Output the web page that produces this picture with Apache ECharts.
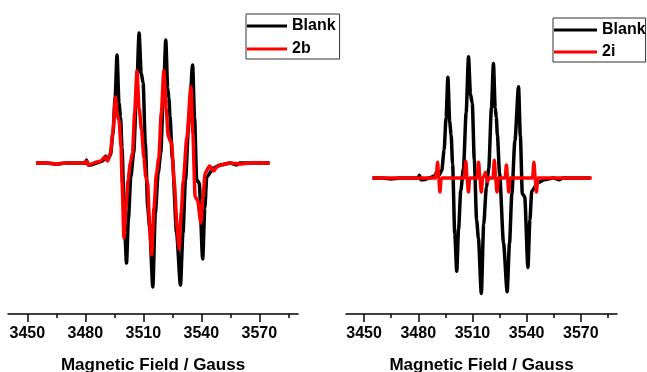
<!DOCTYPE html>
<html>
<head>
<meta charset="utf-8">
<script src="https://cdn.jsdelivr.net/npm/echarts@6/dist/echarts.min.js"></script>
<style>
html,body{margin:0;padding:0;background:#fff;}
#chart{width:647px;height:372px;}
</style>
</head>
<body>
<div id="chart"></div>
<script>
// Magnetic field (Gauss) and EPR signal (arb. units)
var blankField = [3454.7,3460,3465,3470,3475,3480,3480.6,3481.5,3483,3486,3489,3490.5,3491.5,3493,3494.3,3495.4,3496.4,3497.4,3498.2,3499,3500.2,3501.3,3502.3,3503.5,3505,3506.5,3507.8,3508.9,3509.9,3511,3512.3,3513.3,3514.9,3516.2,3517.7,3519,3520.5,3521.6,3522.6,3523.2,3523.8,3525,3527.2,3529.2,3530.5,3531.8,3533.5,3535.5,3536.5,3537.6,3538.9,3540.7,3541.8,3542.8,3546.3,3549.7,3555,3558,3560,3565,3570,3575.2];
var blankSignal = [0,0,-1,0,0,0,3,-2,-2,0,2,7,3,8,30,65,108,60,46,15,-60,-100,-55,-14,10,70,130,90,80,20,-45,-65,-124,-50,-10,10,75,123,75,65,46,5,-70,-122,-70,-17,40,98,45,-17,-20,-96,-45,-14,-5,-2,0,-2,0,0,0,0];

var field2b = [3454.5,3460,3465,3470,3475,3480,3480.6,3481.5,3483,3486,3488,3490,3491.5,3493,3494.2,3495.6,3496.5,3497.4,3498.5,3499,3500,3501,3502.1,3503.3,3504.4,3505.5,3506.7,3507.8,3509.1,3510.3,3511.3,3512.2,3513.2,3514.3,3515.5,3516.8,3518,3519.3,3520.6,3521.8,3522.9,3524.6,3526,3527.5,3528.5,3529.6,3530.7,3532.5,3534.6,3535.6,3536.8,3538,3539.8,3540.8,3542,3544.2,3546.3,3548,3550,3555,3560,3565,3570,3575.4];
var signal2b = [0,0,-1,0,0,0,2,-2,-1,1,2,6,2,10,30,66,48,43,16,-20,-75,-45,-17,0,10,50,92,55,33,5,-14,-20,-60,-92,-45,-10,5,50,92,55,26,20,-20,-65,-86,-50,-17,25,76,30,-34,-37,-60,-35,-10,-3,-8,-4,-2,0,-1,0,0,0];

var field2i = [3454.6,3465,3475,3480,3489.5,3490.2,3490.7,3491.3,3492.0,3492.6,3493.2,3500,3505.5,3506.3,3507.0,3507.8,3508.4,3512.7,3513.4,3514.1,3514.9,3515.6,3516.5,3517.1,3517.8,3518.4,3519.0,3521.4,3522.1,3522.8,3523.6,3524.3,3528.1,3528.8,3529.4,3530.1,3530.8,3537,3543.3,3544.0,3544.7,3545.4,3546.1,3555,3565,3576];
var signal2i = [0,0,0,0,0,8,17,0,-15,-2,0,0,0,18,0,-15,0,0,17,0,-15,0,2,6,0,-4,0,0,19,0,-15,0,0,14,0,-15,0,0,0,17,0,-15,0,0,0,0];

var majorTicks = [3450,3480,3510,3540,3570];
var minorTicks = [3465,3495,3525,3555,3585];
var axisTitle = 'Magnetic Field / Gauss';

function pairs(xs, ys){ return xs.map(function(x,i){ return [x, ys[i]]; }); }

var FONT = 'Liberation Sans';
function majorAxis(gi){
  return {
    type:'value', gridIndex:gi, min:3440, max:3590, position:'bottom',
    name: axisTitle, nameLocation:'middle', nameGap:43,
    nameTextStyle:{fontFamily:FONT,fontWeight:'bold',fontSize:17,color:'#000'},
    axisLine:{show:true,onZero:false,lineStyle:{color:'#000',width:1.5}},
    axisTick:{show:true,length:8,customValues:majorTicks,lineStyle:{color:'#000',width:1.5}},
    axisLabel:{show:true,margin:12,customValues:majorTicks,formatter:function(v){return String(v);},fontFamily:FONT,fontWeight:'bold',fontSize:16,color:'#000'},
    splitLine:{show:false}
  };
}
function minorAxis(gi){
  return {
    type:'value', gridIndex:gi, min:3440, max:3590, position:'bottom',
    axisLine:{show:false,onZero:false},
    axisTick:{show:true,length:4,customValues:minorTicks,lineStyle:{color:'#000',width:1.5}},
    axisLabel:{show:false},
    splitLine:{show:false}
  };
}
function line(name, xi, yi, data, color){
  return {
    name:name, type:'line', xAxisIndex:xi, yAxisIndex:yi, data:data,
    symbol:'none', showSymbol:false, smooth:0.25, smoothMonotone:'x', animation:false,
    lineStyle:{color:color,width:3.5,join:'round'}, itemStyle:{color:color}
  };
}
function legend(names, left, top, iw, gap, pad){
  return {
    data:names, orient:'vertical', left:left, top:top,
    icon:'rect', itemWidth:iw, itemHeight:3, itemGap:gap, padding:pad,
    borderColor:'#333', borderWidth:1,
    textStyle:{fontFamily:FONT,fontWeight:'bold',fontSize:16,lineHeight:14,color:'#000'}
  };
}

var chart = echarts.init(document.getElementById('chart'), null, {renderer:'canvas'});
chart.setOption({
  animation:false,
  backgroundColor:'#fff',
  grid:[
    {left:8, top:14, width:290, height:300, outerBoundsMode:'none', containLabel:false},
    {left:346, top:14, width:271, height:300, outerBoundsMode:'none', containLabel:false}
  ],
  xAxis:[majorAxis(0), majorAxis(1), minorAxis(0), minorAxis(1)],
  yAxis:[
    {type:'value', gridIndex:0, min:-151, max:149, show:false},
    {type:'value', gridIndex:1, min:-146, max:176, show:false}
  ],
  legend:[
    legend(['Blank','2b'], 246, 14, 40, 7, [4,4,2,1]),
    legend(['Blank','2i'], 553, 18, 43, 6, [4,0,2,1])
  ],
  series:[
    line('Blank',0,0,pairs(blankField,blankSignal),'#000000'),
    line('2b',0,0,pairs(field2b,signal2b),'#ff0000'),
    line('Blank',1,1,pairs(blankField,blankSignal),'#000000'),
    line('2i',1,1,pairs(field2i,signal2i),'#ff0000')
  ]
});
</script>
</body>
</html>
